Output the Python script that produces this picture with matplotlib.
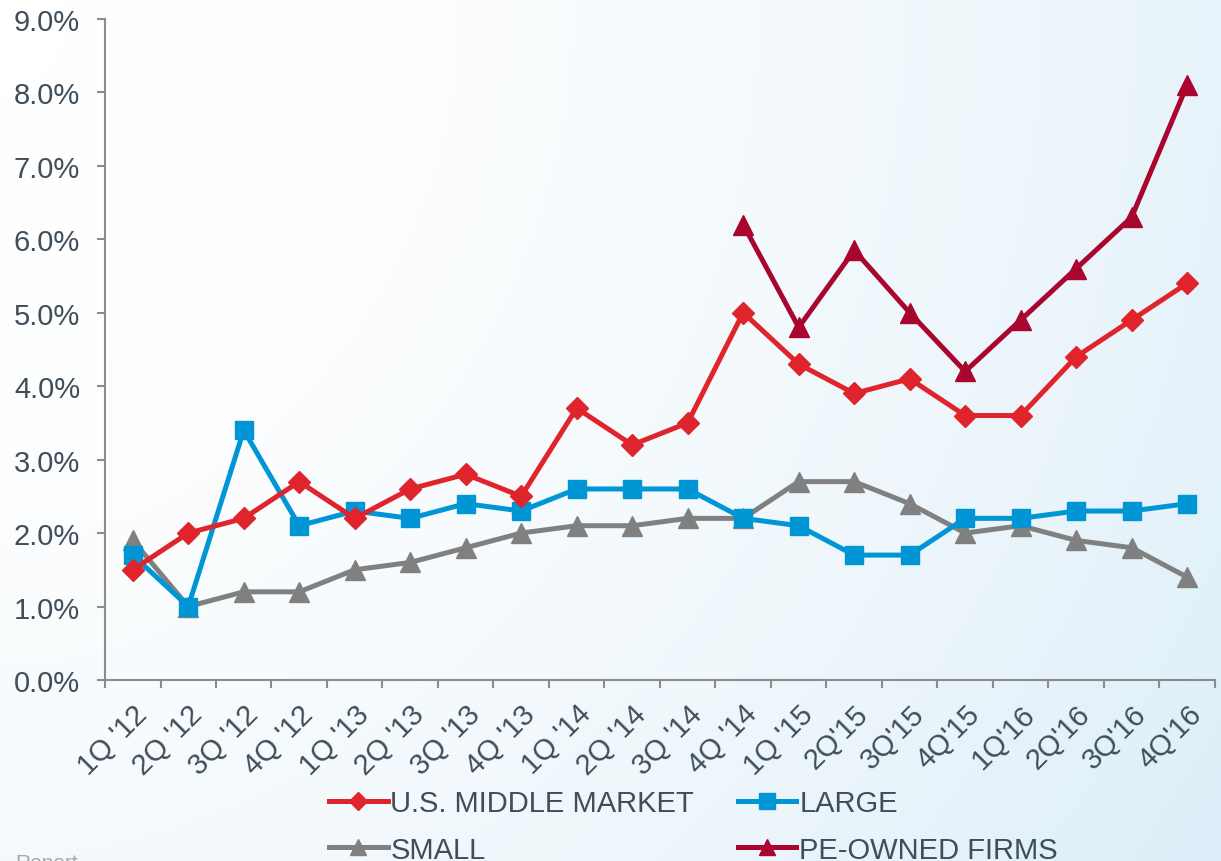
import matplotlib
import matplotlib.pyplot as plt
import numpy as np
from matplotlib.colors import LinearSegmentedColormap

matplotlib.use('Agg')

# Datos por trimestre
trimestres = ["1Q '12", "2Q '12", "3Q '12", "4Q '12",
              "1Q '13", "2Q '13", "3Q '13", "4Q '13",
              "1Q '14", "2Q '14", "3Q '14", "4Q '14",
              "1Q '15", "2Q'15", "3Q'15", "4Q'15",
              "1Q'16", "2Q'16", "3Q'16", "4Q'16"]
middle_market = [1.5, 2.0, 2.2, 2.7, 2.2, 2.6, 2.8, 2.5, 3.7, 3.2,
                 3.5, 5.0, 4.3, 3.9, 4.1, 3.6, 3.6, 4.4, 4.9, 5.4]
large = [1.7, 1.0, 3.4, 2.1, 2.3, 2.2, 2.4, 2.3, 2.6, 2.6,
         2.6, 2.2, 2.1, 1.7, 1.7, 2.2, 2.2, 2.3, 2.3, 2.4]
small = [1.9, 1.0, 1.2, 1.2, 1.5, 1.6, 1.8, 2.0, 2.1, 2.1,
         2.2, 2.2, 2.7, 2.7, 2.4, 2.0, 2.1, 1.9, 1.8, 1.4]
# PE-owned solo desde 4Q '14
pe_owned = [np.nan] * 11 + [6.2, 4.8, 5.85, 5.0, 4.2, 4.9, 5.6, 6.3, 8.1]

cor_texto = '#3F4E5A'
cor_eixo = '#8C8C8C'

plt.rcParams['font.family'] = ['Liberation Sans', 'DejaVu Sans']

fig = plt.figure(figsize=(12.21, 8.62), dpi=100)

# Fundo em degrade (branco -> azul claro)
fundo = fig.add_axes([0, 0, 1, 1], zorder=-10)
gx, gy = np.meshgrid(np.linspace(0, 1, 300), np.linspace(0, 1, 300))
grad = np.clip(0.7 * gx ** 1.8 + 0.3 * gy ** 2, 0, 1)
cmap_fundo = LinearSegmentedColormap.from_list('fundo', ['#FFFFFF', '#DDEEF8'])
fundo.imshow(grad, cmap=cmap_fundo, aspect='auto', extent=[0, 1, 0, 1],
             origin='upper', vmin=0, vmax=1)
fundo.axis('off')

ax = fig.add_axes([0.086, 0.21, 0.909, 0.767])
ax.set_facecolor('none')

x = np.arange(len(trimestres))
ax.plot(x, middle_market, color='#E0242B', lw=3.6, marker='D', ms=11,
        label='U.S. MIDDLE MARKET', zorder=3)
ax.plot(x, small, color='#808080', lw=3.6, marker='^', ms=14,
        label='SMALL', zorder=2)
ax.plot(x, large, color='#0096D6', lw=3.6, marker='s', ms=13,
        label='LARGE', zorder=2)
ax.plot(x, pe_owned, color='#A8062F', lw=3.6, marker='^', ms=14,
        label='PE-OWNED FIRMS', zorder=3)

ax.set_xlim(-0.5, len(trimestres) - 0.5)
ax.set_ylim(0, 9)
ax.set_yticks(np.arange(0, 10, 1))
ax.set_yticklabels(['%.1f%%' % v for v in np.arange(0, 10, 1)])
ax.set_xticks(x)
ax.set_xticklabels(trimestres, rotation=45, ha='right', rotation_mode='anchor')
ax.set_xticks(np.arange(-0.5, len(trimestres)), minor=True)

for s in ['top', 'right']:
    ax.spines[s].set_visible(False)
for s in ['left', 'bottom']:
    ax.spines[s].set_color(cor_eixo)
    ax.spines[s].set_linewidth(1.5)

ax.tick_params(axis='y', direction='out', length=6, width=1.5, color=cor_eixo,
               labelsize=21, labelcolor=cor_texto, pad=12)
ax.tick_params(axis='x', which='major', length=0, labelsize=21,
               labelcolor=cor_texto, pad=14)
ax.tick_params(axis='x', which='minor', direction='out', length=6, width=1.5,
               color=cor_eixo)

handles, labels = ax.get_legend_handles_labels()
fig.legend(handles, labels, loc='center', bbox_to_anchor=(0.568, 0.040),
           ncol=2, frameon=False, fontsize=21, labelcolor=cor_texto,
           handlelength=2.0, handletextpad=0.1, columnspacing=1.5,
           labelspacing=0.62, markerscale=0.85)

fig.text(0.064, -0.008, 'Report', ha='right', va='baseline', fontsize=15,
         color='#A8A8A8')

fig.savefig('out.png', dpi=100)
